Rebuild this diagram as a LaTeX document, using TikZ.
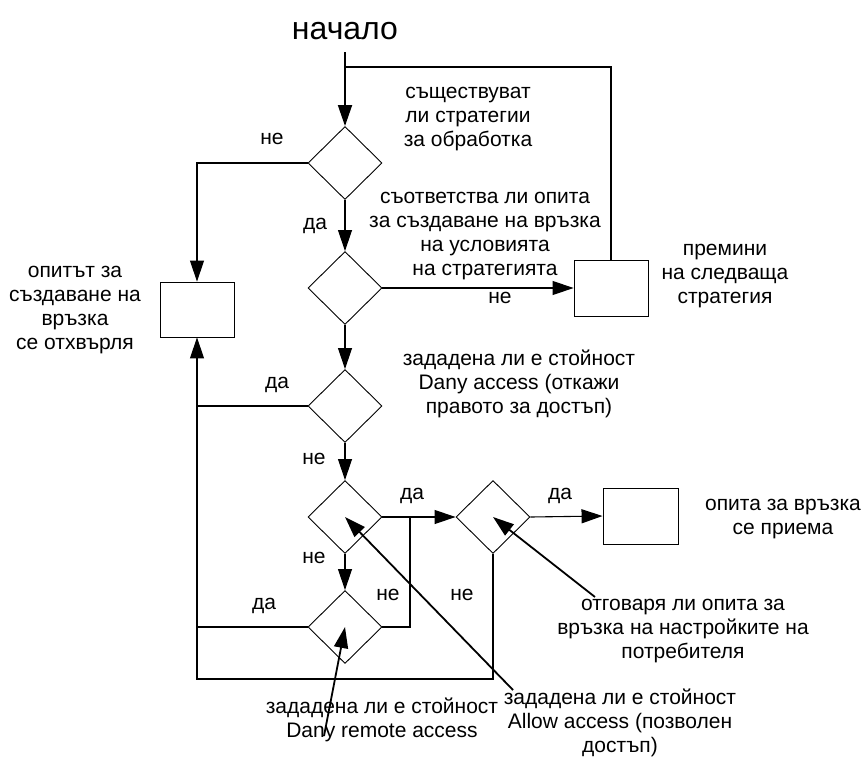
\documentclass[tikz,border=0pt]{standalone}
\usepackage{fontspec}
\setmainfont{Liberation Sans}
\usetikzlibrary{arrows.meta,shapes.geometric}
\begin{document}
\begin{tikzpicture}[x=1pt,y=-1pt,
  txt/.style={font=\fontsize{21}{24}\selectfont, align=center, inner sep=0pt},
  lbl/.style={font=\fontsize{21}{24}\selectfont, inner sep=0pt},
  dec/.style={draw, diamond, minimum width=74pt, minimum height=73pt, inner sep=0pt, line width=0.9pt},
  blk/.style={draw, rectangle, minimum width=74pt, minimum height=56pt, inner sep=0pt, line width=0.9pt},
  flow/.style={line width=1.1pt},
  arr/.style={flow, -{Triangle[length=21pt,width=14pt]}},
  ptr/.style={line width=1.8pt, -{Triangle[length=21pt,width=14pt]}}]
\useasboundingbox (0,0) rectangle (862,774);

% start
\node[font=\fontsize{32}{36}\selectfont, inner sep=0pt] (start) at (345,31) {начало};
\coordinate (s0) at (345,52);
\coordinate (jtop) at (345,67);

% decisions
\node[dec] (d1) at (345,163) {};
\node[dec] (d2) at (345,288) {};
\node[dec] (d3) at (345,406) {};
\node[dec] (d4) at (345,517) {};
\node[dec] (d5) at (493,517) {};
\node[dec] (d6) at (345,627) {};

% blocks
\node[blk, minimum height=55pt] (rej) at (197,309.5) {};
\node[blk] (prem) at (611,288) {};
\node[blk, minimum width=75pt] (acc) at (640.5,516) {};

% junction points
\coordinate (jl1) at (198,406);
\coordinate (jl2) at (198,627);
\coordinate (jr) at (410,517);
\coordinate (jb) at (493,679);

% main flow
\draw[arr, line width=1.8pt] (s0) -- (d1.north);
\draw[flow] (prem.north) |- (jtop);
\draw[arr] (d1.west) -| (rej.north);
\draw[arr] (d1.south) -- (d2.north);
\draw[arr] (d2.east) -- (prem.west);
\draw[arr] (d2.south) -- (d3.north);
\draw[flow] (d3.west) -- (jl1);
\draw[arr] (d3.south) -- (d4.north);
\draw[flow] (d4.east) -- (jr);
\draw[arr] (jr) -- (d5.west);
\draw[flow] (jr) |- (d6.east);
\draw[arr] (d4.south) -- (d6.north);
\draw[flow] (d6.west) -- (jl2);
\draw[arr] (d5.south) -- (jb) -| (rej.south);
\draw[arr] (d5.east) -- (acc.west);

% branch labels
\node[lbl] (n1) at (272,139) {не};
\node[lbl] (y1) at (315,226) {да};
\node[lbl] (n2) at (500,298) {не};
\node[lbl] (y3) at (277,385) {да};
\node[lbl] (n3) at (314,459) {не};
\node[lbl] (y4) at (412,496) {да};
\node[lbl] (n4) at (314,558) {не};
\node[lbl] (n6) at (388,595) {не};
\node[lbl] (n5) at (462,595) {не};
\node[lbl] (y6) at (264,606) {да};
\node[lbl] (y5) at (560,496) {да};

% descriptions
\node[txt] (t1) at (468,119) {съществуват\\ли стратегии\\за обработка};
\node[txt] (t2) at (485,236) {съответства ли опита\\за създаване на връзка\\на условията\\на стратегията};
\node[txt] (tprem) at (725,276) {премини\\на следваща\\стратегия};
\node[txt] (trej) at (75,310) {опитът за\\създаване на\\връзка\\се отхвърля};
\node[txt] (t3) at (519,384) {зададена ли е стойност\\Dany access (откажи\\правото за достъп)};
\node[txt] (tacc) at (783,519) {опита за връзка\\се приема};
\node[txt] (t5) at (683,631) {отговаря ли опита за\\връзка на настройките на\\потребителя};
\node[txt] (t4) at (620,723) {зададена ли е стойност\\Allow access (позволен\\достъп)};
\node[txt] (t6) at (382,720) {зададена ли е стойност\\Dany remote access};

% pointers from descriptions to their decisions
\coordinate (p4) at (513,690);
\coordinate (p5) at (595,597);
\coordinate (p6) at (324,736);
\draw[ptr] (p4) -- (d4.center);
\draw[ptr] (p5) -- (d5.center);
\draw[ptr] (p6) -- (d6.center);
\end{tikzpicture}
\end{document}
